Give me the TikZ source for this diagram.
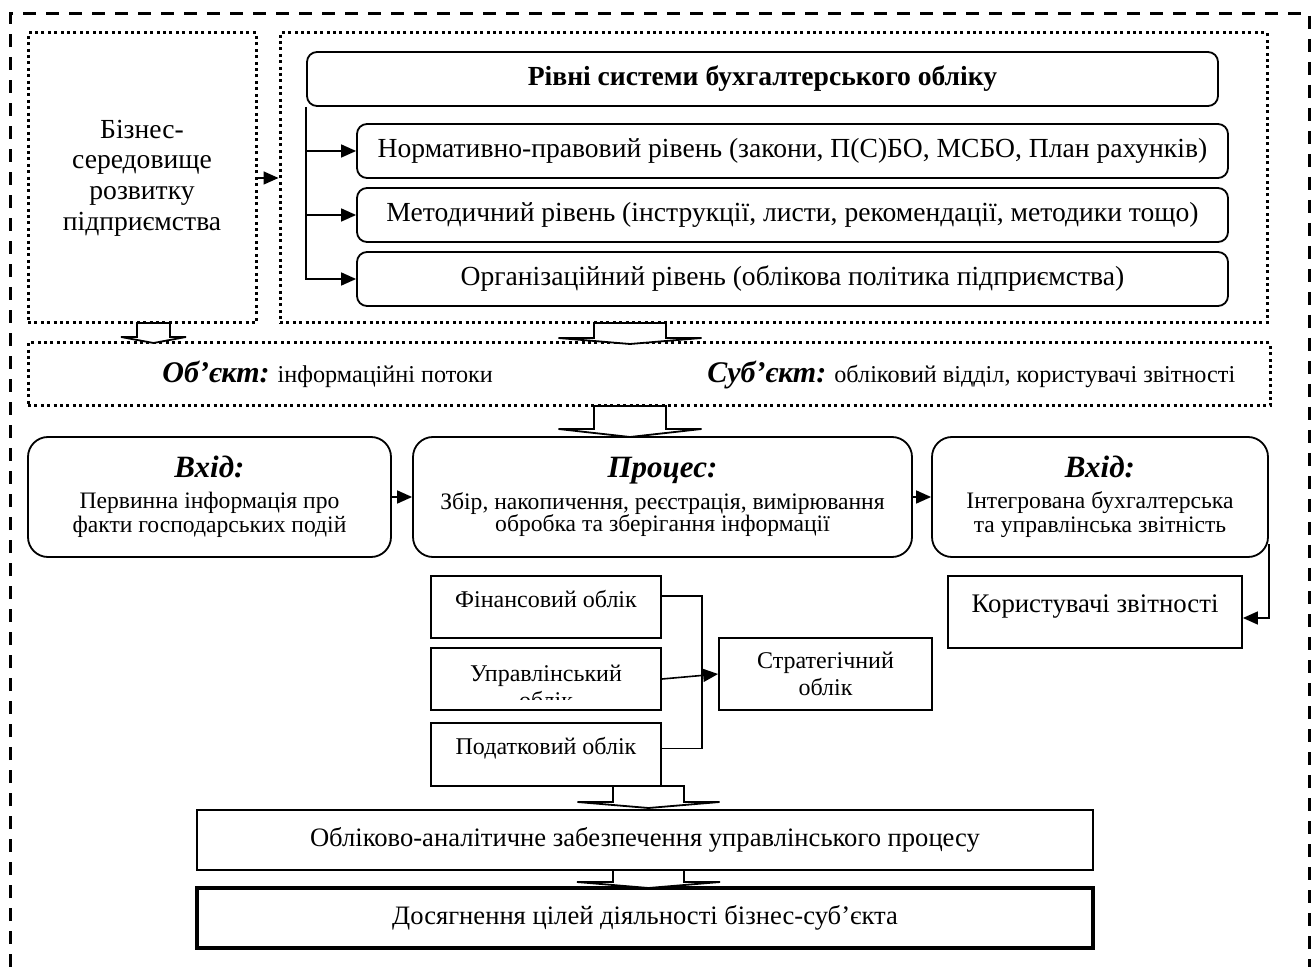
\documentclass[tikz,border=0pt]{standalone}
\usepackage{fontspec}
\setmainfont{Liberation Serif}
\usetikzlibrary{arrows.meta,positioning}
\tikzset
{
    sz/.style 2 args = {minimum width=#1*0.5pt, minimum height=#2*0.5pt, inner sep=0pt},
    dotbox/.style    = {draw=black, line width=1.5pt, dash pattern=on 1.5pt off 1.7pt},
    levelbox/.style  = {draw=black, line width=0.9pt, rounded corners=5pt, align=center},
    stagebox/.style  = {draw=black, line width=0.9pt, rounded corners=10pt, align=center},
    plainbox/.style  = {draw=black, line width=0.9pt, align=center},
    kindbox/.style   = {plainbox, font=\fontsize{12}{13.5}\selectfont},
    arr/.style       = {-{Triangle[length=7.5pt,width=6.5pt]}, line width=0.8pt},
    hollow/.style    = {draw=black, line width=0.9pt, fill=white}
}
\newcommand\blockarr[5]{\draw[hollow] (#1) ++(-#2,0) -- ++(0,#4) -- ++(#2-#3,0) -- ++(#3,#5) -- ++(#3,-#5) -- ++(#2-#3,0) -- ++(0,-#4) -- cycle;}
\newcommand\stagehead[1]{{\fontsize{15.5}{15.5}\selectfont\bfseries\itshape #1}}
\newcommand\keyword[1]{{\fontsize{15}{15}\selectfont\bfseries\itshape #1}}

\begin{document}
\begin{tikzpicture}[x=0.5pt, y=-0.5pt, font=\fontsize{13.8}{15.3}\selectfont]
\useasboundingbox (0,0) rectangle (1316,967);

%% outer frame
\draw[line width=1.5pt, dash pattern=on 6.5pt off 5pt] (10,967) -- (10,14) -- (1309,14) -- (1309,967);

%% environment and levels
\node (biz)      [dotbox, sz={228}{290}, align=center] at (142,178) {Бізнес-\\середовище\\розвитку\\підприємства};
\node (lvlframe) [dotbox, sz={987}{290}]               at (773.5,178) {};
\node (title)    [levelbox, sz={911}{54}]              at (762.5,79)  {\bfseries Рівні системи бухгалтерського обліку};
\node (norm)     [levelbox, sz={871}{54}]              at (792.5,151) {Нормативно-правовий рівень (закони, П(С)БО, МСБО, План рахунків)};
\node (metod)    [levelbox, sz={871}{54}]              at (792.5,215) {Методичний рівень (інструкції, листи, рекомендації, методики тощо)};
\node (org)      [levelbox, sz={871}{54}]              at (792.5,279) {Організаційний рівень (облікова політика підприємства)};

\draw[arr] (biz.east) -- (lvlframe.west);
\draw[arr] (title.south west) |- (org.west);
\draw[arr] (title.south west |- norm.west) -- (norm.west);
\draw[arr] (title.south west |- metod.west) -- (metod.west);

%% object and subject
\node (objsubj) [dotbox, sz={1242}{63}] at (649,374.5) {};
\node (obj)  [anchor=base west, inner sep=0pt, font=\fontsize{12.1}{14}\selectfont] at (162,383) {\keyword{Об’єкт:} інформаційні потоки};
\node (subj) [anchor=base west, inner sep=0pt, font=\fontsize{12.1}{14}\selectfont] at (707,383) {\keyword{Суб’єкт:} обліковий відділ, користувачі звітності};

%% input, process, output
\node (inL)  [stagebox, sz={363}{120}, font=\fontsize{11.8}{12.2}\selectfont] at (209.5,497)
	{\stagehead{Вхід:}\\[3pt]Первинна інформація про\\факти господарських подій};
\node (proc) [stagebox, sz={499}{120}, font=\fontsize{11.8}{11.2}\selectfont] at (662.5,497)
	{\stagehead{Процес:}\\[3pt]Збір, накопичення, реєстрація, вимірювання\\обробка та зберігання інформації};
\node (out)  [stagebox, sz={336}{120}, font=\fontsize{11.8}{12.2}\selectfont] at (1100,497)
	{\stagehead{Вхід:}\\[3pt]Інтегрована бухгалтерська\\та управлінська звітність};
\node (users) [plainbox, sz={294}{72}, text height=9pt, text depth=9pt, font=\fontsize{13.4}{15}\selectfont] at (1095,612) {Користувачі звітності};

\draw[arr] (inL) -- (proc);
\draw[arr] (proc) -- (out);
\draw[arr] ([yshift=7pt]out.south east) |- ([yshift=-3pt]users.east);

%% kinds of accounting
\node (fin)   [kindbox, sz={230}{62}, text height=9pt, text depth=9pt] at (546,607)   {Фінансовий облік};
\node (upr)   [kindbox, sz={230}{62}]                                   at (546,679)   {};
\begin{scope}
	\clip (upr.north west) rectangle ([yshift=5.5pt]upr.south east);
	\node (uprtext) [align=center, font=\fontsize{12}{13.5}\selectfont] at (546,687) {Управлінський\\облік};
\end{scope}
\node (pod)   [kindbox, sz={230}{63}, text height=9pt, text depth=9pt] at (546,754.5) {Податковий облік};
\node (strat) [kindbox, sz={213}{72}] at (825.5,674) {Стратегічний\\облік};
\coordinate (bus) at (702,676);

\draw[line width=0.8pt] ([yshift=5.5pt]fin.east) -| (bus) |- ([yshift=3pt]pod.east);
\draw[arr] (upr.east) -- (strat.west);

%% results
\node (support) [plainbox, sz={896}{60}, font=\fontsize{13.3}{15}\selectfont] at (645,840) {Обліково-аналітичне забезпечення управлінського процесу};
\node (goal)    [plainbox, sz={896}{60}, font=\fontsize{13.3}{15}\selectfont, line width=1.6pt] at (645,918) {Досягнення цілей діяльності бізнес-суб’єкта};

%% block arrows
\blockarr{153.5,323}{16.5}{32.5}{14}{6}
\blockarr{630,323}{36}{71.5}{15}{6}
\blockarr{630,406}{36}{71.5}{23}{8}
\blockarr{648.5,786}{35.5}{71}{16}{6}
\blockarr{648.5,870}{35.5}{71.5}{12}{6}
\end{tikzpicture}
\end{document}
